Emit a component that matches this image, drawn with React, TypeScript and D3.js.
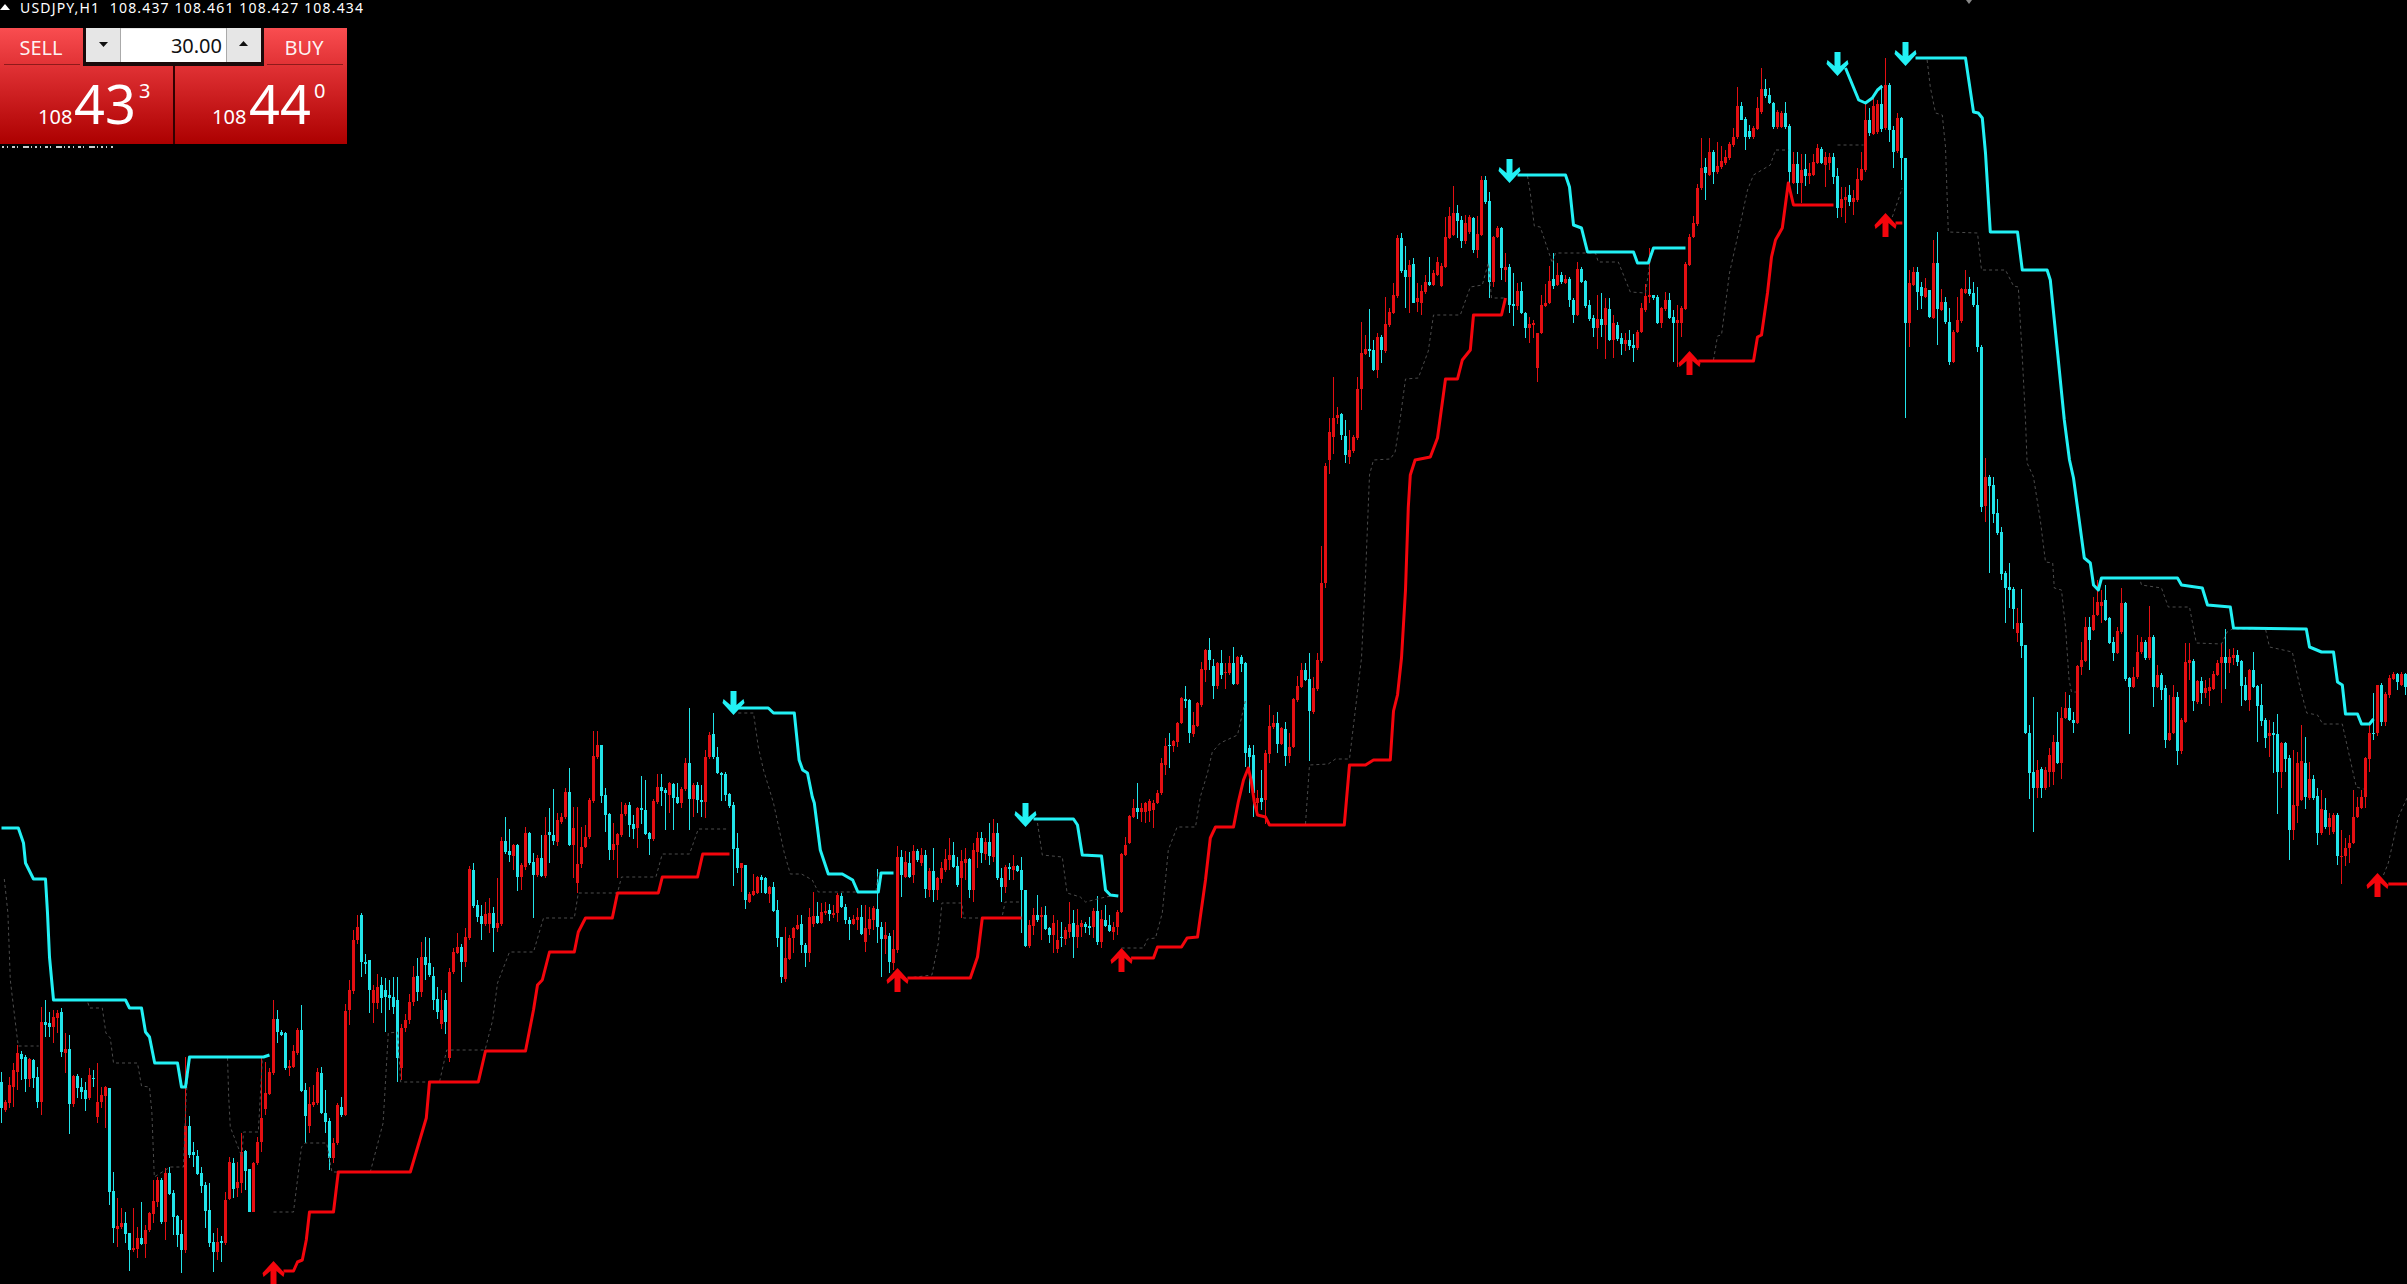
import { useEffect, useRef } from 'react';
import * as d3 from 'd3';

const WIDTH = 2407;
const HEIGHT = 1284;
const BASE_PRICE = 107.83; // chart bottom
const TOP_PRICE = 109.114; // chart top
const LAST_BAR = 601;

const HEADER = 'USDJPY,H1  108.437 108.461 108.427 108.434';

// H1 bars as [open, high, low, close], in points (0.001) above BASE_PRICE
type Bar = [number, number, number, number];
const barsA: Bar[] = [
  [202,212,161,176],[174,184,172,182],[181,207,176,199],[197,221,177,214],[212,239,194,231],[230,233,204,225],
  [227,229,192,205],[205,226,197,225],[224,225,196,206],[207,217,176,182],[182,277,169,262],[262,284,247,259],
  [261,272,247,257],[257,274,241,267],[266,274,251,271],[272,276,227,232],[231,251,211,235],[235,249,150,180],
  [180,209,177,208],[208,210,186,196],[197,206,185,192],[194,202,173,185],[186,216,184,209],[206,214,197,205],
  [167,221,161,182],[182,197,176,189],[188,198,156,197],[196,196,79,92],[93,112,41,56],[55,86,37,58],
  [57,76,55,61],[61,72,41,50],[51,51,13,34],[34,76,32,36],[35,57,26,46],[46,82,39,40],
  [40,59,26,54],[54,72,52,71],[70,104,61,83],[82,107,77,104],[104,106,60,62],[62,116,44,111],
  [111,117,89,90],[91,94,49,67],[68,69,37,49],[50,64,11,34],[34,227,31,158],[158,168,126,129],
  [132,142,117,129],[128,134,109,110],[111,117,91,98],[99,102,56,73],[74,101,37,41],[42,51,12,32],
  [32,56,24,42],[43,48,22,41],[41,92,39,84],[85,127,84,122],[121,126,86,95],[96,122,87,102],
  [101,151,91,132],[133,134,94,113],[115,115,72,72],[72,122,72,121],[121,147,119,142],[142,226,132,166],
  [175,222,169,191],[190,216,189,212],[211,284,209,265],[265,274,241,252],[252,254,248,249],[251,252,214,216],
  [216,224,208,218],[217,239,216,233],[231,256,229,254],[254,279,192,193],[194,201,141,168],[158,197,151,180],
  [179,199,177,182],[181,216,179,212],[211,217,170,171],[171,194,151,162],[163,166,114,126],[126,146,121,141],
  [141,181,139,179],[177,187,167,169],[169,280,168,273],[274,304,259,294],[293,354,290,344],[344,369,340,357],
  [369,371,307,322],[322,330,310,320],[324,324,271,294],[281,299,261,294],[281,310,275,297],[299,307,271,286],
  [294,306,252,287],[289,304,274,286],[287,307,270,277],[284,307,202,226],[216,260,204,256],[256,270,252,264],
  [264,290,260,282],[282,318,278,307],[308,326,283,292],[292,342,287,327],[327,347,304,319],[321,346,307,309],
  [308,317,274,284],[285,297,265,272],[260,294,255,274],[284,291,250,262],[226,316,222,312],[312,336,310,332],
  [331,351,330,337],[337,340,302,322],[322,356,317,347],[346,418,344,415],[414,421,376,378],[379,384,362,367],
  [368,379,344,360],[360,382,358,370],[360,386,351,371],[371,377,332,356],[356,406,352,361],[360,447,358,443],
  [443,467,430,432],[433,455,422,429],[428,440,414,439],[439,440,393,407],[407,421,394,419],[417,457,414,451],
  [451,452,419,421],[422,431,366,409],[409,429,407,426],[426,449,407,408],[408,467,406,449],[452,476,421,449],
  [449,495,439,443],[442,471,438,464],[462,471,460,467],[467,496,465,492],[492,516,438,439],[439,477,406,456],
  [401,477,391,420],[420,457,416,437],[437,459,436,447],[447,486,445,484],[483,553,481,528],[527,553,525,539],
  [539,539,481,488],[489,496,452,469],[470,471,424,434],[434,461,424,440],[439,451,406,450],[449,482,447,470],
  [470,481,468,479],[479,482,447,459],[460,469,445,455],[456,477,436,476],[476,508,460,474],[474,504,449,450],
  [451,452,429,445],[445,485,443,483],[482,510,480,497],[497,510,478,493],[494,496,454,491],[489,502,471,501],
  [500,501,454,486],[487,501,480,481],[481,497,476,495],[495,526,493,521],[521,576,454,485],[485,501,467,499],
  [499,502,471,484],[484,499,467,482],[482,534,466,527],[527,552,525,549],[550,571,525,527],[527,537,510,511],
  [511,512,483,509],[510,512,483,489],[490,491,476,478],[479,482,398,435],[436,451,411,416],[416,421,392,421],
  [419,419,375,384],[382,392,381,390],[389,410,388,393],[391,408,390,407],[407,409,391,404],[406,407,390,391],
  [390,398,381,397],[397,402,372,373],[374,384,337,346],[347,347,301,307],[305,357,302,326],[325,349,324,346],
  [346,357,331,356],[355,369,354,359],
];
const barsB: Bar[] = [
  [360,369,331,339],[339,341,317,331],[331,376,322,367],[360,392,357,368],[368,382,360,361],[361,381,360,372],
  [371,382,369,373],[374,380,363,370],[369,379,366,371],[371,391,362,389],[388,391,376,377],[377,380,360,364],
  [364,367,344,360],[360,369,359,365],[364,376,354,367],[367,379,349,350],[342,379,332,356],[355,377,349,365],
  [364,378,354,376],[375,415,341,357],[357,362,307,345],[345,362,330,349],[348,351,311,322],[321,354,314,335],
  [334,438,331,427],[427,434,387,409],[407,433,406,422],[421,432,406,407],[409,439,401,433],[433,435,422,424],
  [421,436,418,429],[429,434,386,395],[394,416,387,413],[413,436,382,394],[394,407,384,406],[405,422,401,416],
  [414,435,412,425],[424,446,414,429],[429,442,416,417],[418,427,397,399],[406,434,366,423],[421,436,404,425],
  [425,426,386,394],[394,441,382,434],[432,452,416,446],[446,452,421,431],[430,446,424,442],[442,461,419,428],
  [427,465,422,451],[451,461,404,406],[406,416,382,397],[397,419,391,417],[417,421,404,415],[414,429,404,418],
  [418,419,412,413],[414,427,351,394],[394,394,337,338],[338,364,336,359],[358,376,349,369],[369,389,362,364],
  [367,377,344,369],[369,378,354,355],[356,357,341,349],[349,369,331,361],[335,364,331,344],[347,362,337,346],
  [345,357,339,354],[352,382,346,360],[361,374,326,347],[347,375,336,359],[357,364,347,361],[360,362,351,357],
  [358,367,349,356],[357,376,346,373],[373,388,339,342],[342,374,336,365],[364,379,357,358],[359,369,352,353],
  [352,362,344,357],[357,374,349,372],[372,431,371,430],[429,447,428,439],[441,469,440,468],[467,485,466,476],
  [476,501,465,472],[472,481,462,476],[472,482,461,481],[473,485,462,483],[474,484,456,481],[481,494,480,491],
  [491,526,489,521],[519,546,509,538],[539,551,516,538],[538,544,532,543],[542,562,537,561],[561,587,560,586],
  [585,598,576,583],[584,585,541,551],[550,572,547,559],[558,582,557,581],[579,622,577,615],[614,635,602,634],
  [634,646,614,624],[618,625,585,598],[598,622,595,621],[621,634,605,609],[611,621,595,612],[611,628,609,621],
  [621,637,599,600],[600,628,599,627],[627,629,612,620],[621,622,517,531],[536,539,491,527],[529,539,467,491],
  [481,494,472,486],[486,514,474,482],[484,534,460,531],[530,579,521,558],[557,569,555,561],[561,572,531,540],
  [540,557,539,556],[555,562,518,528],[528,551,521,537],[537,586,536,585],[584,608,582,598],[597,621,596,614],
  [614,621,603,604],[605,631,523,573],[572,607,570,596],[595,631,593,624],[623,738,621,701],[701,821,696,818],
  [824,866,810,852],[847,907,830,866],[866,877,860,869],[870,871,844,849],[848,864,821,829],[827,854,820,834],
  [833,849,831,847],[846,907,844,895],[895,962,874,931],[930,949,929,935],[935,975,927,933],[934,944,913,914],
  [914,951,906,947],[947,949,921,934],[933,987,931,960],[959,976,957,972],[971,1001,970,989],[988,1049,986,1046],
  [1046,1051,1011,1013],[1014,1038,976,1007],[1007,1024,971,1019],[1020,1026,981,981],[982,1001,972,986],[981,999,969,993],
  [992,1009,990,1002],[1002,1027,998,999],[999,1014,998,1011],[1009,1027,1008,1022],[998,1021,997,1018],[1017,1067,1016,1047],
  [1046,1077,1045,1068],[1049,1098,1048,1071],[1071,1079,1046,1063],[1064,1068,1036,1043],[1043,1069,1040,1061],[1052,1069,1050,1067],
  [1066,1067,1031,1034],[1034,1068,1026,1050],[1049,1108,1048,1104],[1104,1108,1080,1082],[1083,1092,986,1002],[1002,1048,997,1047],
  [1047,1058,1046,1056],[1056,1057,1004,1016],[1014,1031,1002,1017],[1017,1020,971,979],[980,1011,958,978],[978,1001,974,993],
  [993,1002,970,971],[971,972,946,956],[956,967,941,960],[959,964,946,961],[916,951,902,951],[951,989,950,979],
  [978,1000,977,981],[981,1018,980,1003],[1005,1031,995,998],[999,1021,998,1009],[1009,1012,1000,1002],[1001,1009,1000,1005],
];
const barsC: Bar[] = [
  [1005,1007,977,984],[984,986,961,969],[969,1022,968,1015],[1015,1017,1001,1002],[1003,1004,976,978],[979,984,963,965],
  [966,969,947,956],[956,989,935,965],[965,991,947,959],[959,986,925,976],[975,986,943,944],[944,969,926,961],
  [959,962,943,945],[946,951,929,940],[940,951,933,944],[944,954,934,938],[939,950,922,936],[936,954,934,952],
  [952,981,951,976],[974,1000,972,988],[987,1036,981,989],[989,989,984,986],[987,989,960,961],[961,977,956,976],
  [975,992,973,984],[984,991,965,966],[967,974,922,961],[961,979,917,964],[961,978,947,976],[975,1022,974,1020],
  [1019,1050,1018,1047],[1047,1068,1046,1061],[1060,1100,1058,1096],[1096,1146,1094,1116],[1117,1126,1084,1111],[1109,1146,1108,1132],
  [1132,1134,1100,1112],[1112,1142,1110,1118],[1117,1138,1115,1123],[1121,1134,1119,1127],[1126,1142,1124,1140],[1139,1156,1137,1147],
  [1147,1197,1145,1178],[1178,1182,1164,1164],[1165,1167,1134,1147],[1153,1159,1145,1147],[1147,1158,1145,1156],[1155,1187,1154,1176],
  [1172,1216,1170,1195],[1195,1205,1186,1188],[1189,1196,1180,1181],[1181,1182,1155,1157],[1157,1174,1155,1172],[1157,1173,1156,1171],
  [1171,1182,1155,1157],[1158,1160,1100,1112],[1101,1132,1100,1120],[1120,1132,1090,1101],[1101,1130,1081,1114],[1115,1130,1098,1108],
  [1108,1121,1100,1111],[1109,1130,1108,1122],[1121,1140,1120,1136],[1135,1137,1120,1121],[1119,1132,1097,1127],[1121,1131,1114,1127],
  [1127,1131,1100,1107],[1108,1116,1066,1076],[1076,1097,1067,1085],[1084,1097,1061,1087],[1089,1099,1078,1082],[1082,1094,1069,1086],
  [1084,1116,1082,1105],[1104,1132,1103,1115],[1114,1181,1112,1164],[1164,1176,1148,1151],[1150,1188,1149,1178],[1152,1184,1150,1180],
  [1180,1199,1152,1155],[1156,1226,1154,1199],[1199,1201,1142,1154],[1154,1158,1116,1132],[1133,1171,1131,1166],[1166,1167,1104,1126],
  [1126,1126,866,961],[961,1014,937,1001],[999,1017,998,1012],[1012,1017,974,992],[997,1002,975,988],[987,1006,986,996],
  [994,994,966,967],[966,1044,965,1021],[1021,1052,939,975],[974,995,973,982],[982,987,960,962],[962,976,919,922],
  [922,954,921,952],[952,987,951,964],[963,996,961,995],[991,1014,990,995],[995,1007,988,990],[991,1002,977,979],
  [979,997,932,937],[937,939,772,777],[778,826,762,807],[807,809,711,798],[799,807,761,770],[771,785,749,751],
  [752,757,704,710],[711,713,661,696],[697,721,676,694],[695,697,655,675],[651,676,642,661],[661,695,626,638],
  [639,639,550,551],[551,559,485,511],[512,587,452,496],[496,524,486,514],[515,517,486,496],[496,517,494,514],
  [512,536,497,529],[512,549,499,542],[542,572,520,521],[521,577,505,566],[566,592,565,576],[576,589,563,564],
  [564,572,551,561],[561,619,560,618],[617,642,609,624],[623,667,622,657],[657,667,614,644],[654,687,653,669],
  [669,704,668,682],[678,694,661,682],[684,699,663,664],[666,667,640,641],[642,647,623,631],[631,657,630,653],
  [652,696,650,681],[681,682,603,605],[606,607,550,597],[597,617,596,607],[607,649,605,632],[632,647,630,642],
  [642,644,624,626],[626,678,624,647],[647,649,577,597],[597,619,596,609],[609,611,584,594],[596,599,536,544],
  [544,589,543,551],[551,599,550,587],[587,592,519,533],[533,566,530,564],[562,641,561,622],[621,641,604,624],
  [623,625,573,583],[582,604,580,603],[603,607,580,591],[591,604,586,596],[593,606,578,597],[595,613,594,610],
  [609,624,608,621],[621,641,581,627],[627,655,595,621],[621,635,611,627],[626,636,619,629],[629,634,618,622],
  [623,624,578,598],[599,607,583,584],[584,615,573,614],[614,632,596,597],[598,599,542,578],[579,600,558,563],
  [564,566,536,546],[548,564,527,551],[551,562,511,549],[550,570,470,512],[512,542,496,541],[541,542,512,525],
  [526,529,424,454],[454,534,444,479],[478,532,461,521],[484,559,483,523],[521,547,475,487],[486,522,484,505],
  [505,509,484,486],[488,496,439,451],[451,494,449,475],[474,486,455,457],[457,471,449,466],[452,471,450,469],
  [469,471,419,428],[427,454,400,428],[428,446,418,436],[436,449,421,441],[441,494,440,467],[467,487,466,477],
  [476,494,475,487],[487,527,476,526],[525,559,512,551],[551,591,544,550],[551,599,548,599],[599,601,558,562],
  [562,592,558,590],[589,609,586,606],[605,612,604,610],[610,611,594,602],[599,612,598,610],[610,611,589,597],
];
const candles: Bar[] = [...barsA, ...barsB, ...barsC];

// Indicator levels, each run is a list of [bar, points above BASE_PRICE]
type Pt = [number, number];
const resistanceRuns: Pt[][] = [
  [[0,456],[4.2,456],[5.5,441],[6,421],[8,405],[11,405],[11.5,371],[12,327],[13,284],[31,284],[32,276],[35,276],[36,252],[37,247],[38.3,221],[44,221],[45,197],[46,197],[47,227],[65.5,227],[67,229]],
  [[184.2,576],[191.7,576],[193,571],[198.2,571],[199.4,524],[200.3,514],[201.5,511],[202.7,487],[203.2,481],[204.7,434],[206.7,410],[210.2,410],[212.8,404],[214.1,392],[219.2,392],[219.9,411],[223,411]],
  [[258,465],[268,465],[269,459],[270.2,429],[275,428],[276,394],[277.2,389],[279.2,388]],
  [[379,1109],[391,1109],[392,1097],[393,1059],[395,1056],[396.5,1032],[408,1032],[409,1021],[411.7,1021],[413,1036],[421,1036]],
  [[461,1216],[464.3,1184],[466,1181],[467.7,1186],[469,1194],[470.2,1198]],
  [[478.5,1226],[491,1226],[491.7,1207],[493,1172],[494.2,1171],[495.2,1166],[496,1131],[497.2,1052],[504,1052],[505.2,1014],[511.4,1014],[512.2,1004],[515.7,864],[517,824],[518,806],[520.7,726],[522.2,721],[523,699],[524.2,694],[525,706],[544,706],[545,699],[550.2,696],[551.5,679],[557.2,677],[558,656],[576.2,655],[577,637],[580,632],[583,632],[584,602],[585.2,599],[586,570],[589,570],[590,560],[592,560],[593,565]],
];
const supportRuns: Pt[][] = [
  [[70.5,13],[73,13],[74,22],[75.2,24],[76.2,44],[77,72],[83,72],[84.2,112],[102.2,112],[106.2,166],[107,202],[119.2,202],[121,233],[131,233],[133,274],[134,299],[135.2,304],[137,332],[143.2,332],[144.2,352],[146,366],[152.7,366],[154,391],[164.2,391],[165.2,407],[174,407],[175.3,430],[182,430]],
  [[226.5,306],[242.2,306],[244,327],[245.2,366],[255,366]],
  [[282.4,326],[288,326],[289,337],[295,337],[296.4,346],[299,347],[301,404],[302.2,446],[303.5,457],[308,457],[309.2,482],[310.5,504],[311.7,516],[312.4,504],[313.2,482],[314,469],[316,467],[317,459],[335.7,459],[337,519],[341,519],[343,524],[347.2,524],[348,573],[349,589],[350,626],[351,694],[351.7,777],[352.2,809],[353.4,824],[357.2,827],[359,846],[361,905],[364,905],[365.2,924],[367.2,934],[368,969],[375,969],[376,986]],
  [[424.2,923],[438,923],[439,947],[440,949],[441.5,991],[442.5,1027],[443.5,1044],[445.2,1056],[446.7,1101],[448,1079],[458,1079]],
  [[473.5,1061],[475.2,1061]],
  [[596.7,400],[601.5,400]],
];
const midlineRuns: Pt[][] = [
  [[0.7,405],[1.6,371],[2.2,304],[3.9,247],[4.2,238],[9.3,238]],
  [[13.1,284],[21.4,284],[22,276],[25.2,276],[26.1,251],[27.2,246],[28,221],[34,221],[35,198],[37,197],[37.6,171],[38.2,107],[42.2,117],[45.5,117],[46.2,190],[47,227],[56.5,227],[56.8,187],[57.2,157],[60.1,127],[60.5,152],[64.2,152],[65.2,224]],
  [[68,72],[73,72],[75,137],[75.9,141],[81.3,141],[82.6,112],[92.2,112],[95.4,161],[96.7,251],[99,252],[99.8,202],[109.5,202],[111.3,234],[120.9,234],[122.8,264],[124,301],[127,332],[133,332],[135.5,366],[143.2,366],[144.2,391],[154,391],[155,407],[163.6,407],[165.2,430],[172,430],[174.2,455],[181.5,455]],
  [[184.2,571],[188,571],[189.2,537],[190.5,514],[193,481],[195.7,431],[197.2,410],[200,410],[202.7,404],[204.2,392],[218.6,392],[219.2,411],[223,411]],
  [[226.5,306],[232.6,309],[234.2,341],[235.1,381],[240.1,381],[240.5,366],[250.1,366],[250.9,382],[255,382]],
  [[259,461],[260.2,429],[265.2,427],[266.4,391],[269.7,387],[271,382],[276,387],[279.2,389]],
  [[280,336],[285.5,336],[286.5,345],[288.5,346],[290.2,371],[291.7,434],[293.9,457],[298.5,457],[299.7,487],[301.5,511],[302.7,532],[304.7,541],[309,549],[311,584]],
  [[326,460],[327,519],[331.7,520],[333.5,525],[337,525],[340,626],[341,708],[342,809],[343,824],[347.2,825],[348.4,832],[349.5,860],[351,905],[354.2,906],[356.7,933],[358,969],[364.7,969],[367.2,997],[370.2,999],[371.7,1021],[372.5,986],[376,986]],
  [[381.5,1108],[382.2,1091],[383.2,1058],[384.7,1057],[387.7,1021],[388.5,1031],[398.5,1031],[399.2,1022],[404.2,1022],[407.2,992],[411,991],[412.2,1024],[413,1036],[421,1036]],
  [[428,924],[429,948],[430,949],[432,1011],[434,1047],[436.5,1094],[438,1109],[442.2,1119],[443.5,1134],[446.7,1134]],
  [[459,1139],[465.5,1139]],
  [[472.7,1067],[475.2,1096]],
  [[481.4,1224],[482.2,1197],[483.5,1171],[485.2,1169],[486,1137],[486.7,1052],[494,1051],[495,1014],[501,1014],[503,998],[504.2,997],[505.2,927],[506,864],[506.4,821],[508,807],[509.7,764],[511,722],[512.8,721],[513.2,696],[515,694],[516,657],[516.9,604],[517.5,592],[518.6,592]],
  [[525,706],[534.5,706],[535,699],[540,696],[541.7,677],[547,677],[548.7,641],[555,640],[556.4,652],[557.7,655],[566,655],[567,637],[572.7,632],[574.5,599],[576.3,571],[579,569],[580.3,560],[585.2,560],[588.7,497],[590.5,495]],
  [[595.5,409],[596.7,421],[598,444],[599.2,467],[601.5,487]],
];

// Trend flip arrows: [bar, level of the tip]
const sellArrows: Pt[] = [[183,569],[256,457],[377,1101],[459,1208],[476,1218]];
const buyArrows: Pt[] = [[68,23],[224,316],[280,336],[422,933],[471,1071],[594,411]];

const CYAN_BAR = '#22e4ea';
const RED_BAR = '#e40f12';
const CYAN_LINE = '#22f0f4';
const RED_LINE = '#f4050c';
const MID_GREY = '#4c4c4c';

const ARROW = 'M0,0 L11,12 L10,16 L3,10 L3,24 L-3,24 L-3,10 L-10,16 L-11,12 Z';

export default function App() {
  const gRef = useRef<SVGGElement>(null);

  useEffect(() => {
    if (!gRef.current) return;
    const g = d3.select(gRef.current);
    g.selectAll('*').remove();

    const x = d3.scaleLinear().domain([0, LAST_BAR]).range([1.5, 1.5 + LAST_BAR * 4]);
    const y = d3.scaleLinear().domain([BASE_PRICE, TOP_PRICE]).range([HEIGHT, 0]);
    const py = (p: number) => y(BASE_PRICE + p / 1000);
    const line = d3.line<Pt>().x(d => x(d[0])).y(d => py(d[1])).curve(d3.curveLinear);

    const bars = g.append('g').attr('shape-rendering', 'crispEdges');
    const barColor = (d: Bar) => (d[3] >= d[0] ? RED_BAR : CYAN_BAR);
    bars.selectAll('rect.wick').data(candles).join('rect').attr('class', 'wick')
      .attr('x', (d, i) => x(i) - 0.5).attr('width', 1)
      .attr('y', d => py(d[1])).attr('height', d => Math.max(1, py(d[2]) - py(d[1])))
      .attr('fill', barColor);
    bars.selectAll('rect.body').data(candles).join('rect').attr('class', 'body')
      .attr('x', (d, i) => x(i) - 1.5).attr('width', 3)
      .attr('y', d => py(Math.max(d[0], d[3])))
      .attr('height', d => Math.max(1, Math.abs(d[3] - d[0]) * (py(0) - py(1))))
      .attr('fill', barColor);

    g.append('g').selectAll('path').data(midlineRuns).join('path')
      .attr('d', d => line(d)).attr('fill', 'none')
      .attr('stroke', MID_GREY).attr('stroke-width', 1).attr('stroke-dasharray', '3,3');

    g.append('g').selectAll('path').data(resistanceRuns).join('path')
      .attr('d', d => line(d)).attr('fill', 'none')
      .attr('stroke', CYAN_LINE).attr('stroke-width', 3).attr('stroke-linejoin', 'round');
    g.append('g').selectAll('path').data(supportRuns).join('path')
      .attr('d', d => line(d)).attr('fill', 'none')
      .attr('stroke', RED_LINE).attr('stroke-width', 3).attr('stroke-linejoin', 'round');

    g.append('g').selectAll('path').data(sellArrows).join('path')
      .attr('d', ARROW).attr('fill', CYAN_LINE)
      .attr('transform', d => `translate(${x(d[0])},${py(d[1])}) scale(1,-1)`);
    g.append('g').selectAll('path').data(buyArrows).join('path')
      .attr('d', ARROW).attr('fill', RED_LINE)
      .attr('transform', d => `translate(${x(d[0])},${py(d[1])})`);
  }, []);

  const font = '"Noto Sans", sans-serif';

  return (
    <svg width={WIDTH} height={HEIGHT} style={{ position: 'absolute', left: 0, top: 0, background: '#000', display: 'block' }}>
      <defs>
        <linearGradient id="panelRed" x1="0" y1="0" x2="0" y2="1">
          <stop offset="0" stopColor="#f94d50" />
          <stop offset="0.32" stopColor="#e13235" />
          <stop offset="1" stopColor="#ac0000" />
        </linearGradient>
      </defs>
      <g ref={gRef} />

      {/* header */}
      <path d="M0,10 L5,4 L10,10 Z" fill="#fff" />
      <text x={20} y={13} fill="#fff" fontFamily={font} fontSize={14} textLength={343} xmlSpace="preserve">{HEADER}</text>
      <path d="M1966,0 L1969,4 L1972,0 Z" fill="#888" />

      {/* trade panel */}
      <rect x={0} y={28} width={173} height={116} fill="url(#panelRed)" />
      <rect x={175} y={28} width={172} height={116} fill="url(#panelRed)" />
      <rect x={173} y={28} width={2} height={116} fill="#300" />
      <rect x={4} y={64} width={76} height={1} fill="#8e1a1a" />
      <rect x={267} y={64} width={76} height={1} fill="#8e1a1a" />
      <rect x={83} y={28} width={181} height={38} fill="#1a0a0a" />
      <rect x={86} y={28} width={175} height={34} fill="#e6e6e6" />
      <rect x={121} y={29} width={105} height={33} fill="#fff" />
      <rect x={120} y={28} width={1} height={34} fill="#aaa" />
      <rect x={226} y={28} width={1} height={34} fill="#aaa" />
      <path d="M99,42 L108,42 L103.5,47 Z" fill="#111" />
      <path d="M239,46 L248,46 L243.5,41 Z" fill="#111" />
      {/* bottom edge of a label hidden behind the panel */}
      <line x1={2} x2={113} y1={147} y2={147} stroke="#ccc" strokeWidth={2} strokeDasharray="2,3,1,4,3,2,1,5,6,2,1,3" />

      <g fontFamily={font} fill="#fff">
        <text x={41} y={55} fontSize={20} textAnchor="middle" fillOpacity={0.95}>SELL</text>
        <text x={304} y={55} fontSize={20} textAnchor="middle" fillOpacity={0.95}>BUY</text>
        <text x={222} y={53} fontSize={20} textAnchor="end" fill="#111">30.00</text>
        <text x={38} y={124} fontSize={20}>108</text>
        <text x={74} y={124} fontSize={54}>43</text>
        <text x={139} y={98} fontSize={20}>3</text>
        <text x={212} y={124} fontSize={20}>108</text>
        <text x={249} y={124} fontSize={54}>44</text>
        <text x={314} y={98} fontSize={20}>0</text>
      </g>
    </svg>
  );
}
